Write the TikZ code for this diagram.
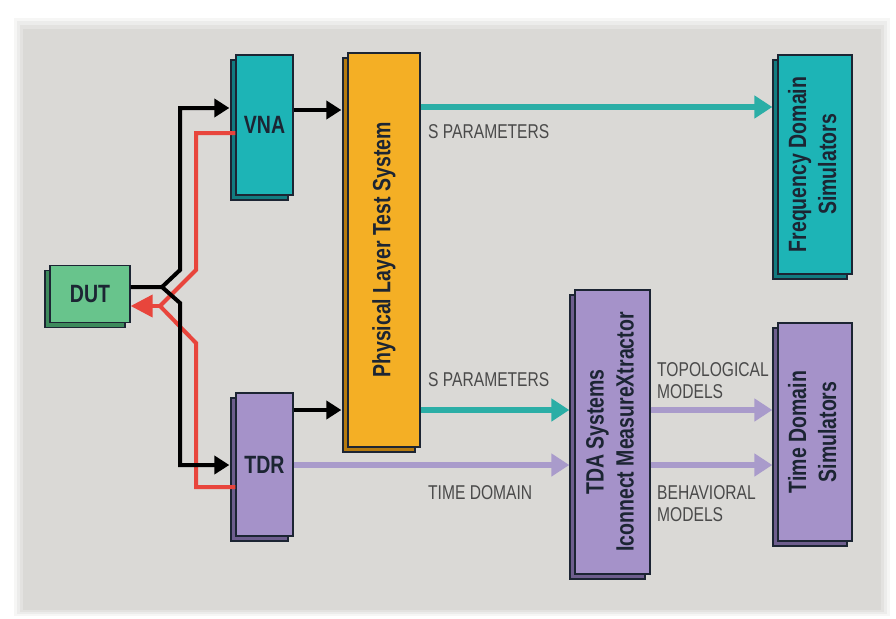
\documentclass[tikz,border=0pt]{standalone}
\usepackage{fontspec}
\usepackage{tikz}
\usepackage{xcolor}
\usetikzlibrary{arrows.meta,shadows}
\newfontfamily\condfont[FakeStretch=0.78]{Liberation Sans}
\definecolor{panel}{HTML}{DAD9D6}
\definecolor{tealbox}{HTML}{1DB4B6}
\definecolor{tealdark}{HTML}{127C80}
\definecolor{tealline}{HTML}{2BAEA6}
\definecolor{purplebox}{HTML}{A592C9}
\definecolor{purpledark}{HTML}{6E5E8E}
\definecolor{purpleline}{HTML}{A99BCB}
\definecolor{orangebox}{HTML}{F4AF25}
\definecolor{orangedark}{HTML}{B47A10}
\definecolor{greenbox}{HTML}{68C48C}
\definecolor{greendark}{HTML}{3D8A5C}
\definecolor{redline}{HTML}{E8453C}
\definecolor{boxtext}{HTML}{1C2533}
\definecolor{labeltext}{HTML}{4A4A4A}

\begin{document}
\begin{tikzpicture}[x=1pt,y=-1pt,
  blk/.style={draw=boxtext,line width=1.3pt,inner sep=0pt,text=boxtext,
    font=\condfont\bfseries\fontsize{25}{30}\selectfont,align=center},
  box/.style 2 args={blk,fill=#1,general shadow={shadow xshift=-5pt,shadow yshift=-5pt,fill=#2,draw=boxtext,line width=1.3pt}},
  lbl/.style={text=labeltext,font=\condfont\fontsize{20}{22}\selectfont,inner sep=0pt,anchor=west,align=left},
  feed/.style={draw=black,line width=4pt,shorten >=6pt,-{Triangle[length=15pt,width=18pt]}},
  back/.style={draw=redline,line width=4pt},
  sparam/.style={draw=tealline,line width=6pt,shorten >=5pt,-{Triangle[length=18pt,width=22pt]}},
  tdom/.style={draw=purpleline,line width=6pt,shorten >=5pt,-{Triangle[length=18pt,width=22pt]}}]
\useasboundingbox (0,0) rectangle (896,618);
\fill[white] (0,0) rectangle (896,618);
\fill[panel!25] (14,18) rectangle (890,616);
\fill[panel!50] (17,21) rectangle (887,614);
\fill[panel!75] (20,25) rectangle (884,612);
\fill[panel] (23,29) rectangle (881,610);
\node[box={greenbox}{greendark},minimum width=80pt,minimum height=57pt] (dut) at (90,294) {DUT};
\node[box={tealbox}{tealdark},minimum width=57pt,minimum height=140pt] (vna) at (264.5,125) {VNA};
\node[box={purplebox}{purpledark},minimum width=57pt,minimum height=143pt] (tdr) at (264.5,464.5) {TDR};
\node[box={orangebox}{orangedark},minimum width=72pt,minimum height=394pt] (plts) at (384,250) {\rotatebox{90}{Physical Layer Test System}};
\node[box={tealbox}{tealdark},minimum width=74pt,minimum height=219pt] (fds) at (815,164.5) {\rotatebox{90}{\begin{tabular}{@{}c@{}}Frequency Domain\\Simulators\end{tabular}}};
\node[box={purplebox}{purpledark},minimum width=75pt,minimum height=284pt] (tda) at (612.5,432) {\rotatebox{90}{\begin{tabular}{@{}c@{}}TDA Systems\\Iconnect MeasureXtractor\end{tabular}}};
\node[box={purplebox}{purpledark},minimum width=74pt,minimum height=218pt] (tds) at (815,432) {\rotatebox{90}{\begin{tabular}{@{}c@{}}Time Domain\\Simulators\end{tabular}}};
\coordinate (split) at (162,287);
\coordinate (merge) at (160,306);
\draw[back] (vna.west |- 0,133) -- (196,133) -- (196,270) -- (merge);
\draw[back] (tdr.west |- 0,487) -- (196,487) -- (196,343) -- (merge);
\draw[back,-{Triangle[length=22pt,width=22pt]}] (merge) -- (dut.east |- 0,306);
\draw[feed] (dut.east |- split) -- (split) -- (180,270) -- (180,108) -- (vna.west |- 0,108);
\draw[feed] (split) -- (180,303) -- (180,465) -- (tdr.west |- 0,465);
\draw[feed] (vna.east |- 0,110) -- (plts.west |- 0,110);
\draw[feed] (tdr.east |- 0,410) -- (plts.west |- 0,410);
\draw[sparam] (plts.east |- 0,107) -- (fds.west |- 0,107);
\draw[sparam] (plts.east |- 0,410) -- (tda.west |- 0,410);
\draw[tdom] (tdr.east |- 0,465) -- (tda.west |- 0,465);
\draw[tdom] (tda.east |- 0,410) -- (tds.west |- 0,410);
\draw[tdom] (tda.east |- 0,465) -- (tds.west |- 0,465);
\node[lbl] (sp1) at (428,132) {S PARAMETERS};
\node[lbl] (sp2) at (428,380) {S PARAMETERS};
\node[lbl] (td) at (428,493) {TIME DOMAIN};
\node[lbl] (topo) at (657,381) {TOPOLOGICAL\\MODELS};
\node[lbl] (beh) at (657,504) {BEHAVIORAL\\MODELS};
\end{tikzpicture}
\end{document}
